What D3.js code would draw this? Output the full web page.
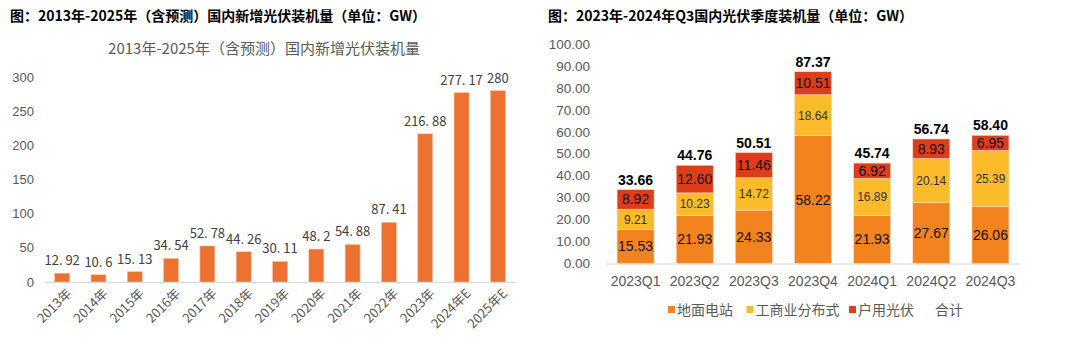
<!DOCTYPE html>
<html><head><meta charset="utf-8">
<script src="https://cdn.jsdelivr.net/npm/d3@7"></script>
<style>body{margin:0;background:#fff}svg{display:block}</style>
</head><body>
<svg id="c" width="1080" height="344"></svg>
<script>
const years = ["2013年","2014年","2015年","2016年","2017年","2018年","2019年","2020年","2021年","2022年","2023年","2024年E","2025年E"];
const installs = [12.92,10.6,15.13,34.54,52.78,44.26,30.11,48.2,54.88,87.41,216.88,277.17,280];
const leftTicks = [0,50,100,150,200,250,300];

const quarters = ["2023Q1","2023Q2","2023Q3","2023Q4","2024Q1","2024Q2","2024Q3"];
const ground = [15.53,21.93,24.33,58.22,21.93,27.67,26.06];
const commercial = [9.21,10.23,14.72,18.64,16.89,20.14,25.39];
const residential = [8.92,12.60,11.46,10.51,6.92,8.93,6.95];
const totals = [33.66,44.76,50.51,87.37,45.74,56.74,58.40];
const rightTicks = [0,10,20,30,40,50,60,70,80,90,100];
const seriesNames = ["地面电站","工商业分布式","户用光伏","合计"];

const svg = d3.select("#c");
const CJK = "'Noto Sans CJK SC', sans-serif";
const LAT = "'Liberation Sans', Arial, sans-serif";

// ---------- Left chart ----------
svg.append("text").attr("x",10).attr("y",21).attr("font-family",CJK).attr("font-weight","bold")
  .attr("font-size",14).attr("fill","#000").text("图：2013年-2025年（含预测）国内新增光伏装机量（单位：GW）");
svg.append("text").attr("x",264).attr("y",54).attr("text-anchor","middle").attr("font-family",CJK)
  .attr("font-size",15).attr("fill","#595959").text("2013年-2025年（含预测）国内新增光伏装机量");

const lx = d3.scaleBand().domain(years).range([44,516]).paddingInner(0.587).paddingOuter(0.2935);
const ly = d3.scaleLinear().domain([0,300]).range([282,77]);

const lg = svg.append("g");
lg.selectAll("text.yt").data(leftTicks).join("text").attr("class","yt")
  .attr("x",34).attr("y",d=>ly(d)).attr("dy","0.35em").attr("text-anchor","end")
  .attr("font-family",LAT).attr("font-size",13).attr("fill","#595959").text(d=>d);
lg.selectAll("rect").data(installs).join("rect")
  .attr("x",(d,i)=>lx(years[i])).attr("width",lx.bandwidth())
  .attr("y",d=>ly(d)).attr("height",d=>ly(0)-ly(d))
  .attr("fill","#ED7131").attr("stroke","#f6c7ab").attr("stroke-width",0.6);
lg.append("line").attr("x1",44).attr("x2",516).attr("y1",ly(0)+0.5).attr("y2",ly(0)+0.5)
  .attr("stroke","#d9d9d9").attr("stroke-width",1.2);
lg.selectAll("text.vl").data(installs).join("text").attr("class","vl")
  .attr("x",(d,i)=>lx(years[i])+lx.bandwidth()/2).attr("y",d=>ly(d)-8)
  .attr("text-anchor","middle").attr("font-family",CJK).attr("font-size",13)
  .attr("fill","#404040").text(d=>String(d).replace(".",". "));
lg.selectAll("text.xl").data(years).join("text").attr("class","xl")
  .attr("transform",d=>`translate(${lx(d)+lx.bandwidth()/2+7},${ly(0)+9}) rotate(-45)`)
  .attr("text-anchor","end").attr("dy","0.35em").attr("font-family",CJK)
  .attr("font-size",13).attr("fill","#595959").text(d=>d);

// ---------- Right chart ----------
svg.append("text").attr("x",548).attr("y",21).attr("font-family",CJK).attr("font-weight","bold")
  .attr("font-size",14).attr("fill","#000").text("图：2023年-2024年Q3国内光伏季度装机量（单位：GW）");

const rx = d3.scaleBand().domain(quarters).range([606,1020]).paddingInner(0.374).paddingOuter(0.187);
const ry = d3.scaleLinear().domain([0,100]).range([263.5,44]);
const rg = svg.append("g");
rg.selectAll("text.yt").data(rightTicks).join("text").attr("class","yt")
  .attr("x",590).attr("y",d=>ry(d)).attr("dy","0.35em").attr("text-anchor","end")
  .attr("font-family",LAT).attr("font-size",13.5).attr("fill","#595959").text(d=>d.toFixed(2));

const rows = quarters.map((q,i)=>({q, ground:ground[i], commercial:commercial[i], residential:residential[i]}));
const keys = ["ground","commercial","residential"];
const colors = {ground:"#F3831F", commercial:"#FBBB2B", residential:"#DD3D1B"};
const stack = d3.stack().keys(keys)(rows);
stack.forEach(layer=>{
  rg.append("g").selectAll("rect").data(layer).join("rect")
    .attr("x",d=>rx(d.data.q)).attr("width",rx.bandwidth())
    .attr("y",d=>ry(d[1])).attr("height",d=>ry(d[0])-ry(d[1]))
    .attr("fill",colors[layer.key]).attr("stroke","#fbd9c4").attr("stroke-width",0.6);
});
rg.append("line").attr("x1",606).attr("x2",1020).attr("y1",ry(0)+0.5).attr("y2",ry(0)+0.5)
  .attr("stroke","#d9d9d9").attr("stroke-width",1.2);
const lblStyle = {ground:{size:14,fill:"#111"}, commercial:{size:12,fill:"#333"}, residential:{size:14,fill:"#111"}};
stack.forEach(layer=>{
  rg.append("g").selectAll("text").data(layer).join("text")
    .attr("x",d=>rx(d.data.q)+rx.bandwidth()/2).attr("y",d=>(ry(d[0])+ry(d[1]))/2)
    .attr("dy","0.36em").attr("text-anchor","middle").attr("font-family",LAT)
    .attr("font-size",lblStyle[layer.key].size).attr("fill",lblStyle[layer.key].fill)
    .text(d=>(d[1]-d[0]).toFixed(2));
});
rg.selectAll("text.tot").data(totals).join("text").attr("class","tot")
  .attr("x",(d,i)=>rx(quarters[i])+rx.bandwidth()/2).attr("y",d=>ry(d)-5)
  .attr("text-anchor","middle").attr("font-family",LAT).attr("font-weight","bold")
  .attr("font-size",14).attr("fill","#000").text(d=>d.toFixed(2));
rg.selectAll("text.xl").data(quarters).join("text").attr("class","xl")
  .attr("x",d=>rx(d)+rx.bandwidth()/2).attr("y",281).attr("dy","0.35em")
  .attr("text-anchor","middle").attr("font-family",LAT).attr("font-size",14)
  .attr("fill","#595959").text(d=>d);

// legend
const legendColors = [colors.ground, colors.commercial, colors.residential, null];
const legendX = [668, 746.5, 849, 926];
const leg = rg.append("g");
seriesNames.forEach((n,i)=>{
  if (legendColors[i]) leg.append("rect").attr("x",legendX[i]).attr("y",306).attr("width",7).attr("height",7).attr("fill",legendColors[i]);
  leg.append("text").attr("x",legendX[i]+9).attr("y",310).attr("dy","0.35em").attr("font-family",CJK)
    .attr("font-size",14).attr("fill","#595959").text(n);
});
</script>
</body></html>
